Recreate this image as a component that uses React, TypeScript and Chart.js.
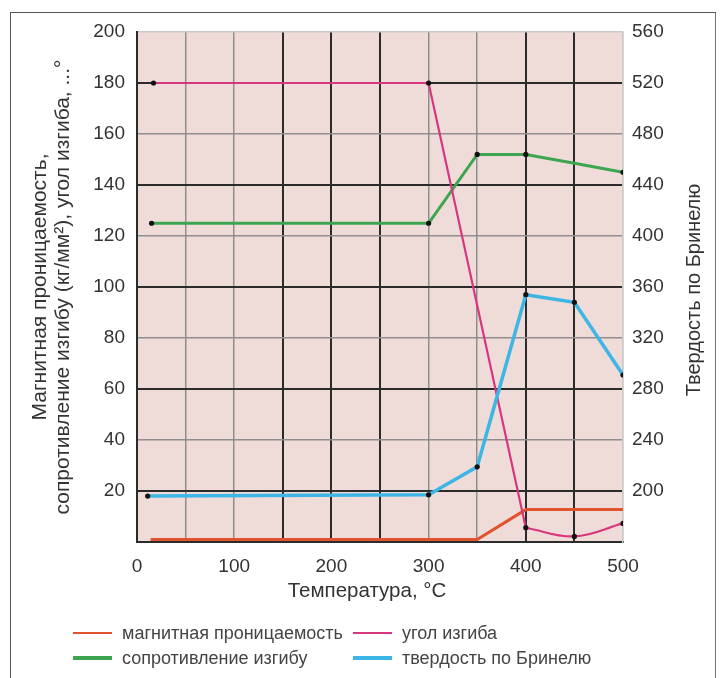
import React, { useEffect, useRef } from "react";
import { Chart, registerables } from "chart.js";

Chart.register(...registerables);

// ---- data ----
const xTickLabels = [0, 100, 200, 300, 400, 500];
const leftTicks = [20, 40, 60, 80, 100, 120, 140, 160, 180, 200];
const rightTicks = [200, 240, 280, 320, 360, 400, 440, 480, 520, 560];

const magX = [14, 350, 400, 500];
const magY = [1, 1, 12.7, 12.7];

const angleX = [17, 300, 400];
const angleY = [180, 180, 5.6];
const angleTailX = [400, 450, 500];
const angleTailY = [5.6, 2.2, 7.3];

const resistX = [15, 300, 350, 400, 450, 500];
const resistY = [125, 125, 152, 152, 148.5, 145];
const resistMarked = [true, true, true, true, false, true];

const hardX = [11, 300, 350, 400, 450, 500];
const hardY = [196, 197, 219, 354, 348, 291];

const seriesNames = [
  "магнитная проницаемость",
  "угол изгиба",
  "сопротивление изгибу",
  "твердость по Бринелю",
];
const seriesColors = ["#e0532f", "#d8367f", "#3da54f", "#3db6e6"];

const xTitle = "Температура, °C";
const leftTitle = [
  "Магнитная проницаемость,",
  "сопротивление изгибу (кг/мм²), угол изгиба, ...°",
];
const rightTitle = "Твердость по Бринелю";

const FONT = "'Liberation Sans', Arial, Helvetica, sans-serif";
const DARK = "#2b2b2b";
const GRAY = "#8e8e8e";
const LIGHT = "#c9c9c9";

const pts = (xs: number[], ys: number[]) => xs.map((x, i) => ({ x, y: ys[i] }));

const bgPlugin = {
  id: "bgPlugin",
  beforeDraw(chart: any) {
    const { ctx, chartArea } = chart;
    ctx.save();
    ctx.fillStyle = "#efdcd9";
    ctx.fillRect(chartArea.left, chartArea.top, chartArea.right - chartArea.left, chartArea.bottom - chartArea.top);
    ctx.restore();
  },
};

const titlesPlugin = {
  id: "titlesPlugin",
  afterDraw(chart: any) {
    const { ctx } = chart;
    ctx.save();
    ctx.fillStyle = "#333";
    ctx.textAlign = "center";
    ctx.textBaseline = "middle";
    ctx.font = `20.5px ${FONT}`;
    ctx.fillText(xTitle, 367, 591);
    ctx.font = `20px ${FONT}`;
    ctx.translate(694, 290);
    ctx.rotate(-Math.PI / 2);
    ctx.fillText(rightTitle, 0, 0);
    ctx.restore();
  },
};

export default function App() {
  const ref = useRef<HTMLCanvasElement | null>(null);

  useEffect(() => {
    if (!ref.current) return;
    const common = {
      fill: false,
      pointBackgroundColor: "#111",
      pointBorderWidth: 0,
      pointHoverRadius: 0,
    };
    const chart = new Chart(ref.current, {
      type: "line",
      data: {
        datasets: [
          {
            ...common,
            label: seriesNames[3],
            data: pts(hardX, hardY),
            yAxisID: "yR",
            borderColor: seriesColors[3],
            borderWidth: 3.5,
            pointRadius: 2.6,
          },
          {
            ...common,
            label: seriesNames[1],
            data: pts(angleX, angleY),
            yAxisID: "y",
            borderColor: seriesColors[1],
            borderWidth: 2.2,
            pointRadius: 2.6,
          },
          {
            ...common,
            label: seriesNames[1] + " ",
            data: pts(angleTailX, angleTailY),
            yAxisID: "y",
            borderColor: seriesColors[1],
            borderWidth: 2.2,
            tension: 0.4,
            pointRadius: angleTailX.map((_, i) => (i === 0 ? 0 : 2.6)),
          },
          {
            ...common,
            label: seriesNames[2],
            data: pts(resistX, resistY),
            yAxisID: "y",
            borderColor: seriesColors[2],
            borderWidth: 3,
            pointRadius: resistMarked.map((m) => (m ? 2.6 : 0)),
          },
          {
            ...common,
            label: seriesNames[0],
            data: pts(magX, magY),
            yAxisID: "y",
            borderColor: seriesColors[0],
            borderWidth: 3,
            pointRadius: 0,
          },
        ],
      },
      options: {
        responsive: false,
        animation: false,
        events: [],
        layout: { padding: { top: 32, left: 0, right: 0, bottom: 0 } },
        plugins: { legend: { display: false }, tooltip: { enabled: false } },
        scales: {
          x: {
            type: "linear",
            min: 0,
            max: 500,
            afterFit: (s: any) => {
              s.height = 136;
            },
            afterBuildTicks: (s: any) => {
              const t = [];
              for (let v = 0; v <= 500; v += 50) t.push({ value: v });
              s.ticks = t;
            },
            ticks: {
              autoSkip: false,
              maxRotation: 0,
              padding: 13,
              color: "#333",
              font: { family: FONT, size: 19 },
              callback: (v: any) => (xTickLabels.includes(Number(v)) ? String(v) : ""),
            },
            grid: {
              drawTicks: false,
              color: (c: any) => {
                const v = c.tick?.value;
                if (v === 500) return LIGHT;
                if (v === 50 || v === 100 || v === 300 || v === 350) return GRAY;
                return DARK;
              },
              lineWidth: (c: any) => {
                const v = c.tick?.value;
                if (v === 50 || v === 100 || v === 300 || v === 350 || v === 500) return 1.5;
                return 2;
              },
            },
            border: { display: true, color: DARK, width: 2 },
          },
          y: {
            type: "linear",
            position: "left",
            min: 0,
            max: 200,
            afterFit: (s: any) => {
              s.width = 137;
            },
            afterBuildTicks: (s: any) => {
              s.ticks = [0, ...leftTicks].map((v) => ({ value: v }));
            },
            ticks: {
              padding: 12,
              color: "#333",
              font: { family: FONT, size: 19 },
              callback: (v: any) => (leftTicks.includes(Number(v)) ? String(v) : ""),
            },
            grid: {
              drawTicks: false,
              color: (c: any) => {
                const v = c.tick?.value;
                if (v === 200) return LIGHT;
                if (v === 40 || v === 80 || v === 120 || v === 160) return GRAY;
                return DARK;
              },
              lineWidth: (c: any) => {
                const v = c.tick?.value;
                if (v === 40 || v === 80 || v === 120 || v === 160 || v === 200) return 1.5;
                return 2;
              },
            },
            border: { display: true, color: DARK, width: 2 },
            title: {
              display: true,
              text: leftTitle,
              color: "#333",
              font: { family: FONT, size: 21, lineHeight: "23px" },
              padding: { top: 28.5, bottom: 0 },
            },
          },
          yR: {
            type: "linear",
            position: "right",
            min: 160,
            max: 560,
            afterFit: (s: any) => {
              s.width = 98;
            },
            afterBuildTicks: (s: any) => {
              s.ticks = [160, ...rightTicks].map((v) => ({ value: v }));
            },
            ticks: {
              padding: 9,
              color: "#333",
              font: { family: FONT, size: 19 },
              callback: (v: any) => (rightTicks.includes(Number(v)) ? String(v) : ""),
            },
            grid: { display: false, drawTicks: false },
            border: { display: true, color: LIGHT, width: 1.5 },
          },
        },
      },
      plugins: [bgPlugin, titlesPlugin],
    } as any);
    return () => chart.destroy();
  }, []);

  const legendRows = [
    [0, 1],
    [2, 3],
  ];
  const legendWidths = [2.5, 2.5, 4.5, 4.5];

  return (
    <div style={{ position: "absolute", left: 0, top: 0, width: 721, height: 678, overflow: "hidden", background: "#fff" }}>
      <canvas ref={ref} width={721} height={678} style={{ position: "absolute", left: 0, top: 0, width: 721, height: 678 }} />
      <div
        style={{
          position: "absolute",
          left: 10,
          top: 12,
          width: 706,
          height: 666,
          boxSizing: "border-box",
          borderLeft: "1.5px solid #555",
          borderTop: "1.5px solid #555",
          borderRight: "1px solid #777",
          pointerEvents: "none",
        }}
      />
      {legendRows.map((row, r) =>
        row.map((si, c) => (
          <div
            key={si}
            style={{
              position: "absolute",
              left: c === 0 ? 73 : 353,
              top: 633 + r * 25 - 12,
              height: 24,
              display: "flex",
              alignItems: "center",
              fontFamily: FONT,
              fontSize: 18,
              color: "#444",
              whiteSpace: "nowrap",
            }}
          >
            <span
              style={{
                display: "inline-block",
                width: 39,
                height: legendWidths[si],
                background: seriesColors[si],
                marginRight: 10,
              }}
            />
            <span>{seriesNames[si]}</span>
          </div>
        ))
      )}
    </div>
  );
}
